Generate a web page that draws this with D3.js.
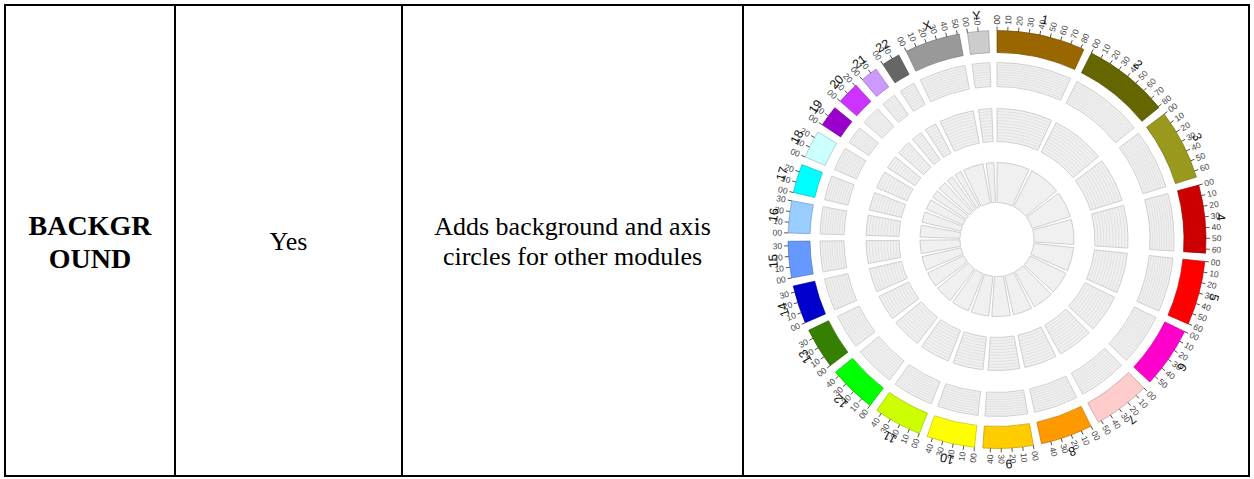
<!DOCTYPE html>
<html>
<head>
<meta charset="utf-8">
<script src="https://cdn.jsdelivr.net/npm/d3@7"></script>
<style>
  body { margin: 0; background: #fff; }
  svg { display: block; }
</style>
</head>
<body>
<div id="chart"></div>
<script>
// table text
const headerLines = ['BACKGR', 'OUND'];
const answerText = 'Yes';
const descLines = ['Adds background and axis', 'circles for other modules'];

// genome layout (hg19 lengths, Mb)
const chrNames = ['1', '2', '3', '4', '5', '6', '7', '8', '9', '10', '11', '12',
    '13', '14', '15', '16', '17', '18', '19', '20', '21', '22', 'X', 'Y'];
const chrLengths = [249.3, 243.2, 198.0, 191.2, 180.9, 171.1, 159.1, 146.4, 141.2, 135.5, 135.0, 133.9,
    115.2, 107.3, 102.5, 90.4, 81.2, 78.1, 59.1, 63.0, 48.1, 51.3, 155.3, 59.4];
const chrColors = ['#996600', '#666600', '#99991e', '#cc0000', '#ff0000', '#ff00cc', '#ffcccc', '#ff9900',
    '#ffcc00', '#ffff00', '#ccff00', '#00ff00', '#358000', '#0000cc', '#6699ff', '#99ccff',
    '#00ffff', '#ccffff', '#9900cc', '#cc33ff', '#cc99ff', '#666666', '#999999', '#cccccc'];
const tickStep = 30;
const tickLabels = ['00', '10', '20', '30', '40', '50', '60', '70', '80'];

const W = 1254, H = 479;
const svg = d3.select('#chart').append('svg')
    .attr('width', W)
    .attr('height', H);

// ---- table ----
const colX = [5, 175, 402, 743, 1249];
const tableTop = 5, tableBottom = 476;
const table = svg.append('g').attr('class', 'table');

table.append('rect')
    .attr('x', colX[0]).attr('y', tableTop)
    .attr('width', colX[4] - colX[0]).attr('height', tableBottom - tableTop)
    .attr('fill', 'none').attr('stroke', '#000').attr('stroke-width', 2);

colX.slice(1, 4).forEach(x => {
    table.append('line')
        .attr('x1', x).attr('x2', x)
        .attr('y1', tableTop).attr('y2', tableBottom)
        .attr('stroke', '#000').attr('stroke-width', 2);
});

const serif = '"Liberation Serif", "Times New Roman", serif';
const cellMid = i => (colX[i] + colX[i + 1]) / 2;

table.selectAll('text.head')
    .data(headerLines)
    .join('text')
    .attr('class', 'head')
    .attr('x', cellMid(0))
    .attr('y', (d, i) => 235 + i * 33)
    .attr('text-anchor', 'middle')
    .style('font-family', serif)
    .style('font-weight', 'bold')
    .style('font-size', '28px')
    .text(d => d);

table.append('text')
    .attr('x', cellMid(1))
    .attr('y', 250)
    .attr('text-anchor', 'middle')
    .style('font-family', serif)
    .style('font-size', '26px')
    .text(answerText);

table.selectAll('text.desc')
    .data(descLines)
    .join('text')
    .attr('class', 'desc')
    .attr('x', cellMid(2))
    .attr('y', (d, i) => 235 + i * 30)
    .attr('text-anchor', 'middle')
    .style('font-family', serif)
    .style('font-size', '26px')
    .text(d => d);

// ---- circos ----
const cx = 997, cy = 239.5;
const pad = 0.04;
const deg = a => a * 180 / Math.PI;

const angle = d3.scaleLinear()
    .domain([0, d3.sum(chrLengths)])
    .range([0, 2 * Math.PI - pad * chrLengths.length]);

const cum = [0, ...d3.cumsum(chrLengths)];
const chroms = chrNames.map((name, i) => {
    const start = angle(cum[i]) + i * pad;
    return { name, len: chrLengths[i], color: chrColors[i], start, end: start + angle(chrLengths[i]) };
});

const ideo = { inner: 187, outer: 209 };
const tracks = [
    { inner: 153, outer: 177, lines: 10 },
    { inner: 98, outer: 131, lines: 11 },
    { inner: 37, outer: 77, lines: 0 }
];

const plot = svg.append('g').attr('transform', `translate(${cx},${cy})`);

// background tracks
tracks.forEach(t => {
    const arc = d3.arc().innerRadius(t.inner).outerRadius(t.outer);
    const g = plot.append('g').attr('class', 'track');
    g.selectAll('path.bg')
        .data(chroms)
        .join('path')
        .attr('class', 'bg')
        .attr('d', d => arc({ startAngle: d.start, endAngle: d.end }))
        .attr('fill', '#f0f0f0')
        .attr('stroke', '#c4c4c4')
        .attr('stroke-width', 0.8);

    // axis circles inside the track
    const radii = d3.range(1, t.lines).map(k => t.inner + k * (t.outer - t.inner) / t.lines);
    chroms.forEach(c => {
        g.selectAll(null)
            .data(radii)
            .join('path')
            .attr('d', r => {
                const p = d3.path();
                const a0 = c.start - Math.PI / 2, a1 = c.end - Math.PI / 2;
                p.moveTo(r * Math.cos(a0), r * Math.sin(a0));
                p.arc(0, 0, r, a0, a1);
                return p.toString();
            })
            .attr('fill', 'none')
            .attr('stroke', '#d6d6d6')
            .attr('stroke-width', 0.6);
    });
});

// ideogram
const ideoArc = d3.arc().innerRadius(ideo.inner).outerRadius(ideo.outer);
plot.append('g').selectAll('path')
    .data(chroms)
    .join('path')
    .attr('d', d => ideoArc({ startAngle: d.start, endAngle: d.end }))
    .attr('fill', d => d.color)
    .attr('stroke', d => d3.color(d.color).darker(0.8))
    .attr('stroke-width', 0.7);

// ticks
const ticks = [];
chroms.forEach(c => {
    d3.range(0, c.len, tickStep).forEach((pos, k) => {
        ticks.push({ a: c.start + angle(pos), label: tickLabels[k] });
    });
});

const tickG = plot.append('g').selectAll('g')
    .data(ticks)
    .join('g')
    .attr('transform', d => `rotate(${deg(d.a) - 90}) translate(${ideo.outer},0)`);

tickG.append('line')
    .attr('x1', 0).attr('x2', 4)
    .attr('stroke', '#333')
    .attr('stroke-width', 0.8);

tickG.append('text')
    .attr('x', d => d.a > Math.PI ? -6 : 6)
    .attr('dy', '0.35em')
    .attr('transform', d => d.a > Math.PI ? 'rotate(180)' : null)
    .attr('text-anchor', d => d.a > Math.PI ? 'end' : 'start')
    .style('font-family', '"Liberation Sans", Arial, sans-serif')
    .style('font-size', '8.5px')
    .attr('fill', '#444')
    .text(d => d.label);

// chromosome names
plot.append('g').selectAll('text')
    .data(chroms)
    .join('text')
    .attr('transform', d => `rotate(${deg((d.start + d.end) / 2)}) translate(0,-225)`)
    .attr('text-anchor', 'middle')
    .attr('dy', '0.35em')
    .style('font-family', '"Liberation Sans", Arial, sans-serif')
    .style('font-size', '12.5px')
    .attr('fill', '#111')
    .text(d => d.name);
</script>
</body>
</html>
